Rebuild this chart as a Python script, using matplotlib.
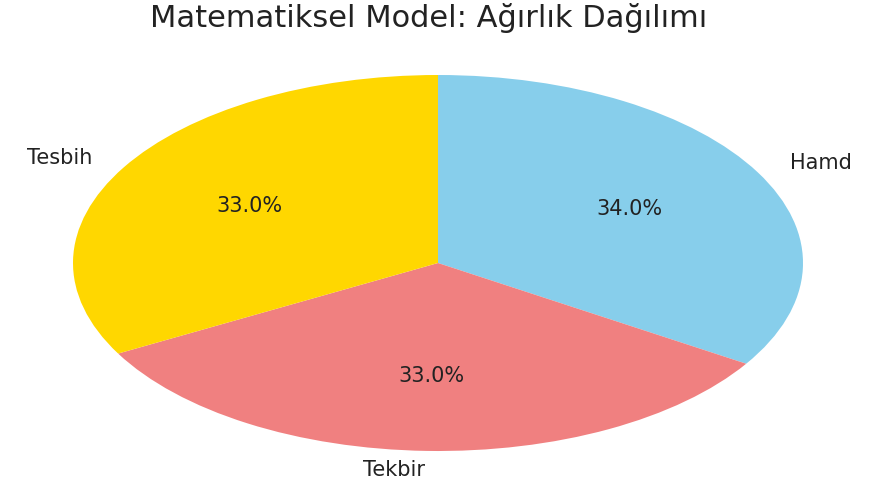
import matplotlib
matplotlib.use("Agg")
import matplotlib.pyplot as plt

labels = ["Hamd", "Tekbir", "Tesbih"]
values = [34, 33, 33]
colors = ["skyblue", "lightcoral", "gold"]
title = "Matematiksel Model: Ağırlık Dağılımı"

fig = plt.figure(figsize=(8.71, 4.82), dpi=100)
ax = fig.add_axes([0, 0, 1, 1])
wedges, texts, autotexts = ax.pie(values, labels=labels, colors=colors,
                                  autopct="%1.1f%%", startangle=90,
                                  counterclock=False,
                                  textprops={"fontsize": 15, "color": "#222222"})
ax.set_aspect("auto")
ax.set_xlim(-438 / 365, (871 - 438) / 365)
ax.set_ylim(-219 / 188, 263 / 188)
ax.axis("off")
fig.text(0.4925, 0.962, title, ha="center", va="center", fontsize=22, color="#222222")
fig.savefig("out.png", dpi=100)
